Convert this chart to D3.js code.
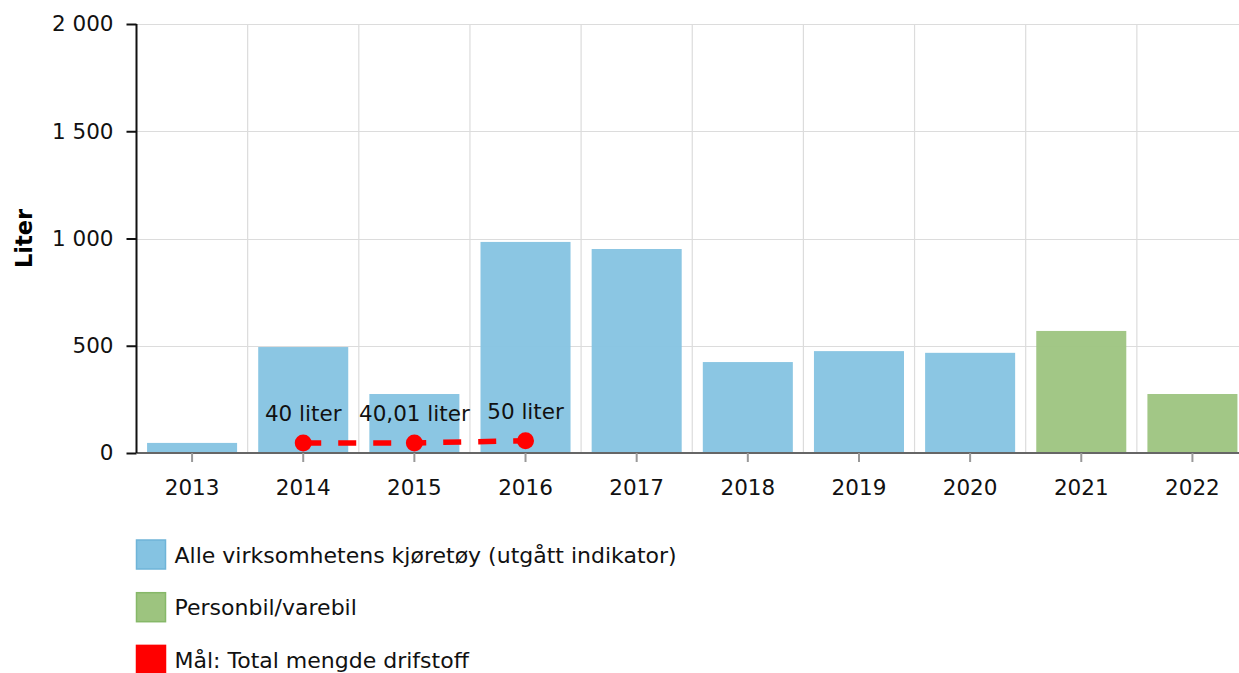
<!DOCTYPE html>
<html>
<head>
<meta charset="utf-8">
<script src="https://cdn.jsdelivr.net/npm/d3@7"></script>
<style>
  body { margin: 0; background: #fff; }
  svg { font-family: "DejaVu Sans", Verdana, sans-serif; }
</style>
</head>
<body>
<svg id="chart"></svg>
<script>
const width = 1239;
const height = 673;

// data
const years = ["2013", "2014", "2015", "2016", "2017", "2018", "2019", "2020", "2021", "2022"];
const allVehicles = [47, 494, 275, 984, 951, 424, 475, 467, null, null];
const carVan = [null, null, null, null, null, null, null, null, 569, 275];
const targetYears = ["2014", "2015", "2016"];
const targetValues = [40, 40.01, 50];
const targetLabels = ["40 liter", "40,01 liter", "50 liter"];
const yTicks = [0, 500, 1000, 1500, 2000];
const legendItems = ["Alle virksomhetens kjøretøy (utgått indikator)", "Personbil/varebil", "Mål: Total mengde drifstoff"];

const blue = "#85c3e2";
const green = "#9dc47f";
const red = "#ff0000";
const font = "DejaVu Sans, Verdana, sans-serif";

const plotLeft = 136.5, plotTop = 24, plotBottom = 453;

const svg = d3.select("#chart")
    .attr("width", width)
    .attr("height", height);

const x = d3.scaleBand()
    .domain(years)
    .range([plotLeft, plotLeft + 10 * 111.15])
    .paddingInner(0.19)
    .paddingOuter(0.095);

const y = d3.scaleLinear()
    .domain([0, 2000])
    .range([plotBottom, plotTop]);

const fmt = v => d3.format(",")(v).replace(/,/g, " ");

// grid
svg.append("g")
    .selectAll("line")
    .data(yTicks)
    .enter().append("line")
    .attr("x1", plotLeft).attr("x2", width)
    .attr("y1", d => Math.round(y(d)) + 0.5).attr("y2", d => Math.round(y(d)) + 0.5)
    .attr("stroke", "#dcdcdc").attr("stroke-width", 1.2);

svg.append("g")
    .selectAll("line")
    .data(years.slice(1))
    .enter().append("line")
    .attr("x1", d => x(d) - x.step() * x.paddingInner() / 2)
    .attr("x2", d => x(d) - x.step() * x.paddingInner() / 2)
    .attr("y1", plotTop).attr("y2", plotBottom)
    .attr("stroke", "#dcdcdc").attr("stroke-width", 1.2);

// bars
svg.append("g")
    .selectAll("rect")
    .data(years.map((d, i) => ({ year: d, v: allVehicles[i] })).filter(d => d.v != null))
    .enter().append("rect")
    .attr("x", d => x(d.year))
    .attr("width", x.bandwidth())
    .attr("y", d => y(d.v))
    .attr("height", d => y(0) - y(d.v))
    .attr("fill", blue)
    .attr("fill-opacity", 0.95);

svg.append("g")
    .selectAll("rect")
    .data(years.map((d, i) => ({ year: d, v: carVan[i] })).filter(d => d.v != null))
    .enter().append("rect")
    .attr("x", d => x(d.year))
    .attr("width", x.bandwidth())
    .attr("y", d => y(d.v))
    .attr("height", d => y(0) - y(d.v))
    .attr("fill", green)
    .attr("fill-opacity", 0.95);

// x axis
const xAxis = svg.append("g")
    .attr("transform", `translate(0,${plotBottom})`)
    .call(d3.axisBottom(x).tickSize(9).tickSizeOuter(0).tickPadding(18))
    .attr("font-family", font)
    .attr("font-size", 21.5);
xAxis.select(".domain").attr("stroke", "#666").attr("stroke-width", 2)
    .attr("d", `M${plotLeft},0H${width}`);
xAxis.selectAll(".tick line").attr("stroke", "#999").attr("stroke-width", 2);
xAxis.selectAll("text").attr("fill", "#111");

// y axis
const yAxis = svg.append("g")
    .attr("transform", `translate(${plotLeft},0)`)
    .call(d3.axisLeft(y).tickValues(yTicks).tickFormat(fmt).tickSize(10).tickPadding(13))
    .attr("font-family", font)
    .attr("font-size", 21.5);
yAxis.select(".domain").attr("stroke", "#111").attr("stroke-width", 2)
    .attr("d", `M0,${plotTop}V${plotBottom}`);
yAxis.selectAll(".tick line").attr("stroke", "#111").attr("stroke-width", 2);
yAxis.selectAll("text").attr("fill", "#111");

svg.append("text")
    .attr("transform", `translate(32,${(plotTop + plotBottom) / 2}) rotate(-90)`)
    .attr("text-anchor", "middle")
    .attr("font-size", 22.5)
    .attr("font-weight", "bold")
    .text("Liter");

// target line
const target = targetYears.map((d, i) => ({ year: d, v: targetValues[i], label: targetLabels[i] }));
const cx = d => x(d.year) + x.bandwidth() / 2;

svg.append("path")
    .datum(target)
    .attr("d", d3.line().x(cx).y(d => y(d.v) - 1.5))
    .attr("fill", "none")
    .attr("stroke", red)
    .attr("stroke-width", 5.5)
    .attr("stroke-dasharray", "18,17");

svg.append("g")
    .selectAll("circle")
    .data(target)
    .enter().append("circle")
    .attr("cx", cx)
    .attr("cy", d => y(d.v) - 1.5)
    .attr("r", 8.5)
    .attr("fill", red);

svg.append("g")
    .selectAll("text")
    .data(target)
    .enter().append("text")
    .attr("x", cx)
    .attr("y", d => y(d.v) - 23)
    .attr("text-anchor", "middle")
    .attr("font-size", 21.5)
    .attr("fill", "#111")
    .text(d => d.label);

// legend
const legendColors = [blue, green, red];
const legendStroke = ["#6fb4d8", "#86b868", red];
const legend = svg.append("g")
    .selectAll("g")
    .data(legendItems)
    .enter().append("g")
    .attr("transform", (d, i) => `translate(136.5,${540 + i * 52.7})`);

legend.append("rect")
    .attr("width", 29).attr("height", 29)
    .attr("fill", (d, i) => legendColors[i])
    .attr("stroke", (d, i) => legendStroke[i])
    .attr("stroke-width", 1.5);

legend.append("text")
    .attr("x", 38)
    .attr("y", 22.7)
    .attr("font-size", 22)
    .attr("fill", "#111")
    .text(d => d);
</script>
</body>
</html>
